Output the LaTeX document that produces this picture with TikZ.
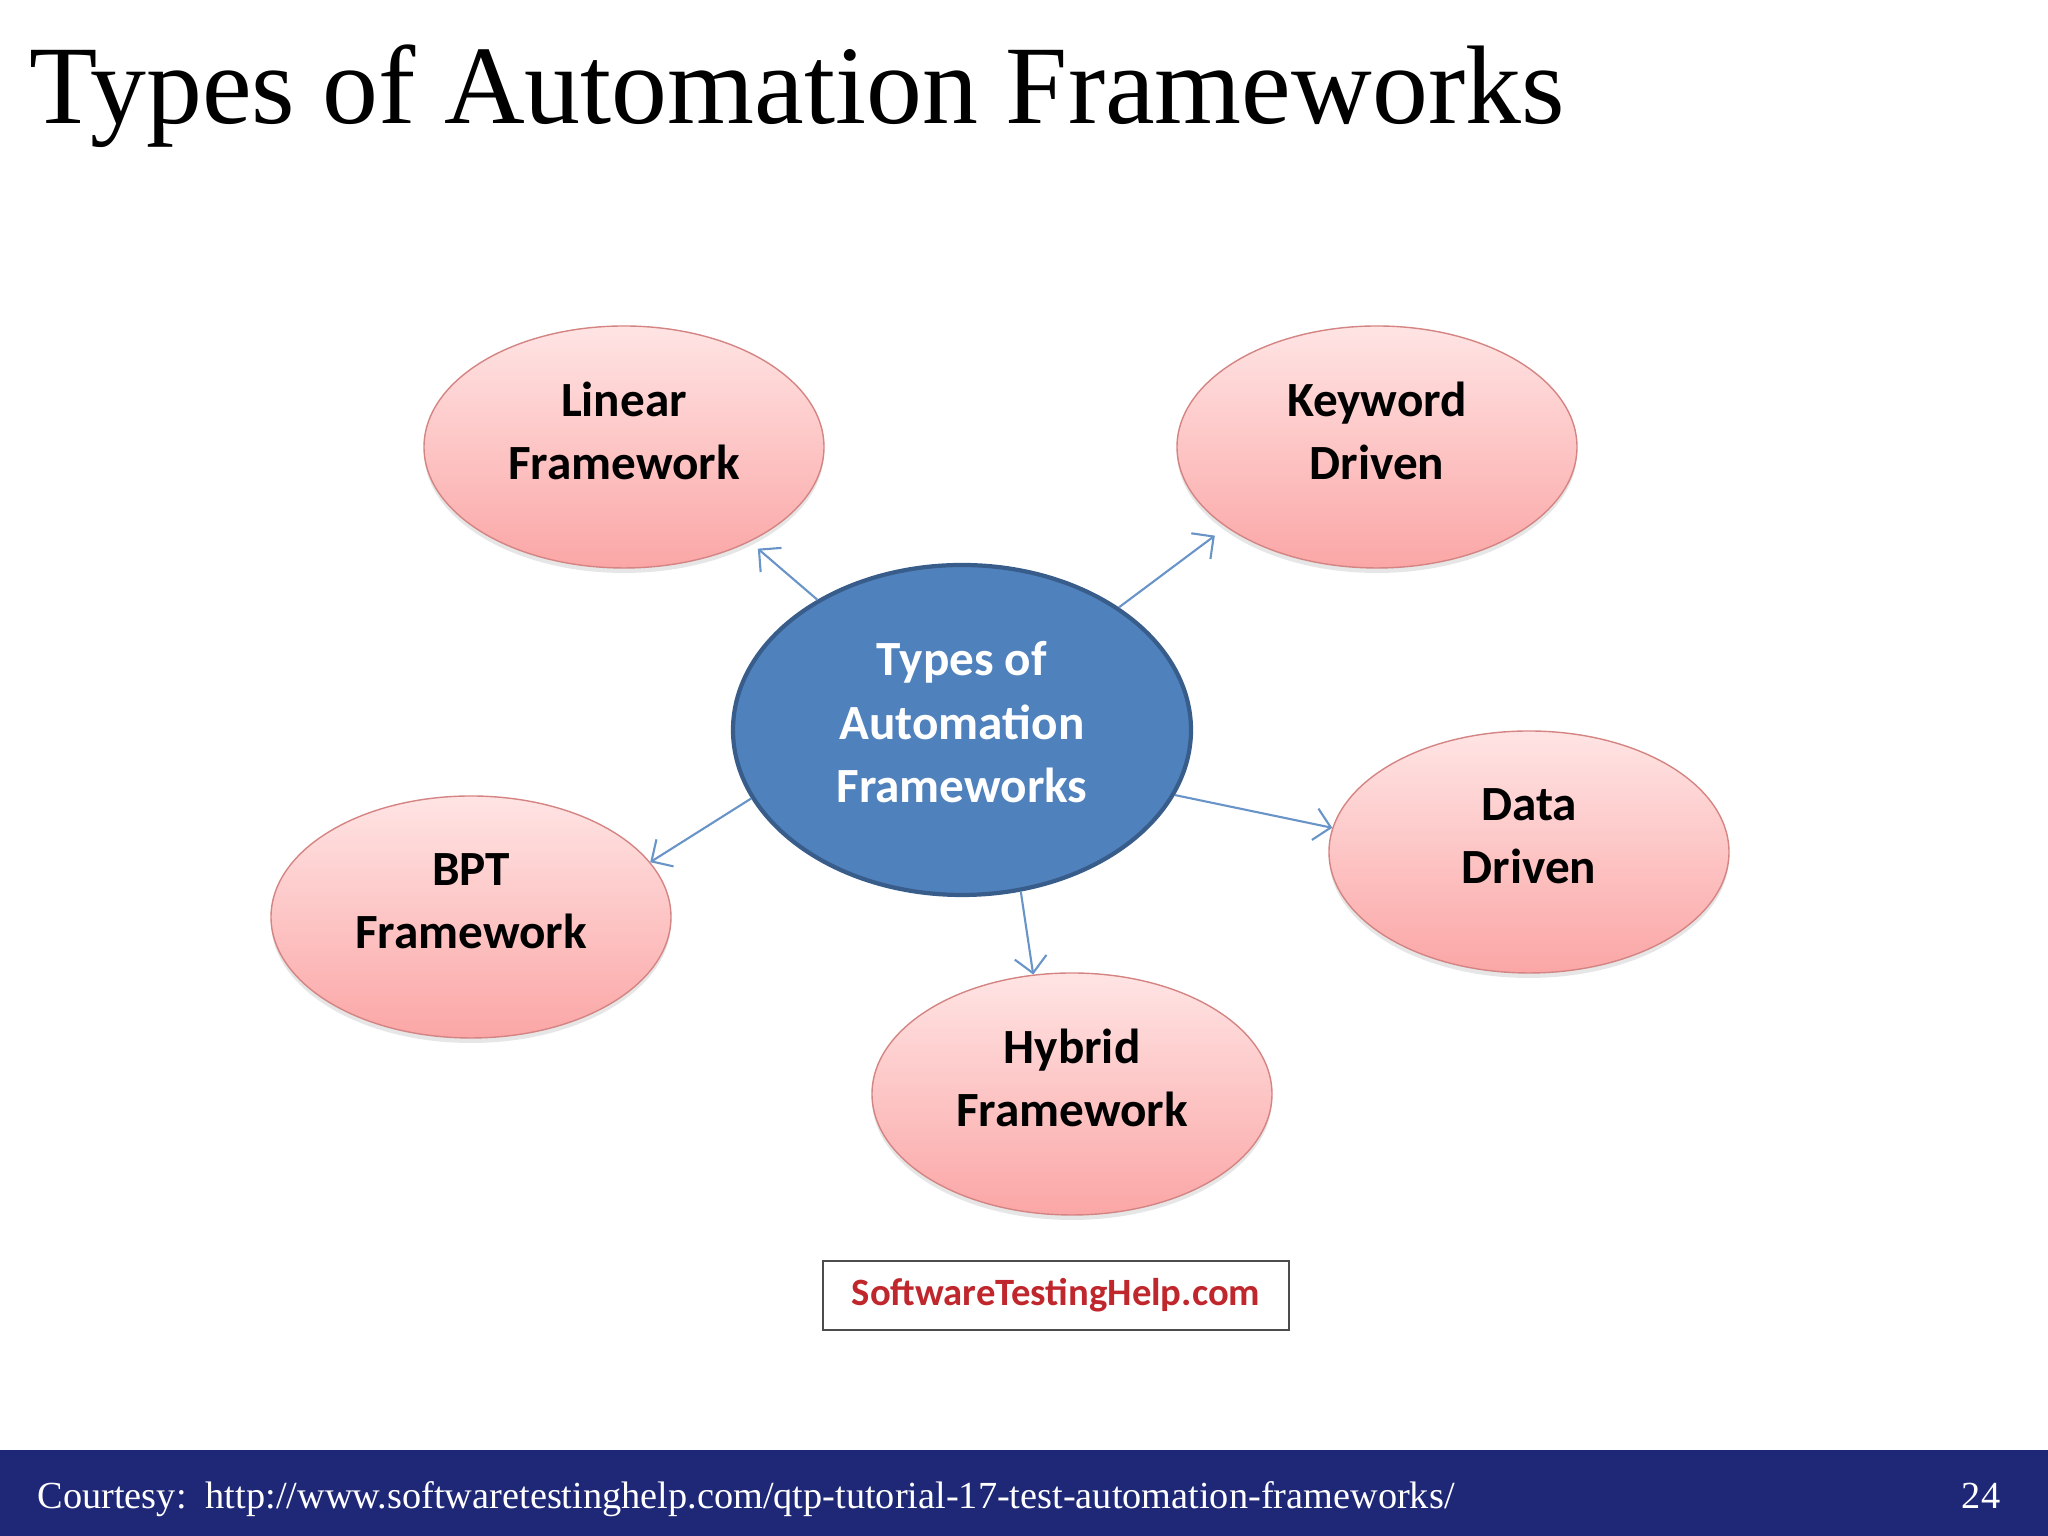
\documentclass[tikz,border=0pt]{standalone}
\usepackage{fontspec}
\setmainfont{Liberation Serif}
\newfontfamily\calibri{Carlito}
\usetikzlibrary{positioning, arrows.meta, shapes.geometric, shadows}
\usepackage{xcolor}

\definecolor{hubblue}{HTML}{4F81BD}
\definecolor{hubedge}{HTML}{385D8A}
\definecolor{pinktop}{HTML}{FFE4E4}
\definecolor{pinkbot}{HTML}{FBA6A6}
\definecolor{pinkedge}{HTML}{D48583}
\definecolor{footnavy}{HTML}{1F2877}
\definecolor{markred}{HTML}{C0272D}

\begin{document}
\begin{tikzpicture}[
        framework/.style={ellipse, draw=pinkedge, thin, top color=pinktop, bottom color=pinkbot, minimum width=4cm, minimum height=2.42cm, align=center, text depth=0.32cm, font=\calibri\bfseries\fontsize{14}{18}\selectfont, drop shadow={opacity=0.2, shadow xshift=0pt, shadow yshift=-0.05cm}},
        hub/.style={ellipse, draw=hubedge, line width=1.2pt, fill=hubblue, text=white, minimum width=4.58cm, minimum height=3.3cm, align=center, text depth=0.16cm, font=\calibri\bfseries\fontsize{14}{18}\selectfont},
        watermark/.style={rectangle, draw=black!70, line width=0.8pt, minimum width=4.66cm, minimum height=0.69cm, text=markred, font=\calibri\bfseries\fontsize{11}{13}\selectfont},
        arrow/.style={-{Straight Barb[length=1.6mm, width=3.2mm]}, line width=0.6pt, hubblue!85}
    ]
        \useasboundingbox (0,0) rectangle (20.48,15.36);

        % Title
        \node[anchor=base west, inner sep=0pt, font=\fontsize{31.8}{38}\selectfont] (title) at (0.29,14.12) {Types of Automation Frameworks};

        % Centre
        \node[hub] (hub) at (9.62,8.06) {Types of\\Automation\\Frameworks};

        % Frameworks round it
        \node[framework] (linear) at (6.24,10.89) {Linear\\Framework};
        \node[framework] (keyword) at (13.77,10.89) {Keyword\\Driven};
        \node[framework] (data) at (15.29,6.84) {Data\\Driven};
        \node[framework] (bpt) at (4.71,6.19) {BPT\\Framework};
        \node[framework] (hybrid) at (10.72,4.42) {Hybrid\\Framework};

        \draw[arrow, shorten >=3pt] (hub.138) -- (linear.323);
        \draw[arrow, shorten >=4pt] (hub.38) -- (keyword.208);
        \draw[arrow] (hub.343) -- (data.173);
        \draw[arrow] (hub.198) -- (bpt.17);
        \draw[arrow] (hub.290) -- (hybrid.108);

        % Watermark
        \node[watermark, below=0.44cm of hybrid, xshift=-0.16cm] (site) {SoftwareTestingHelp.com};

        % Footer
        \fill[footnavy] (0,0) rectangle (20.48,0.86);
        \node[anchor=base west, inner sep=0pt, text=white, font=\fontsize{10.9}{13}\selectfont] (courtesy) at (0.37,0.27) {Courtesy:\ \ http://www.softwaretestinghelp.com/qtp-tutorial-17-test-automation-frameworks/};
        \node[anchor=base east, inner sep=0pt, text=white, font=\fontsize{10.9}{13}\selectfont] (page) at (20.01,0.27) {24};
    \end{tikzpicture}
\end{document}
